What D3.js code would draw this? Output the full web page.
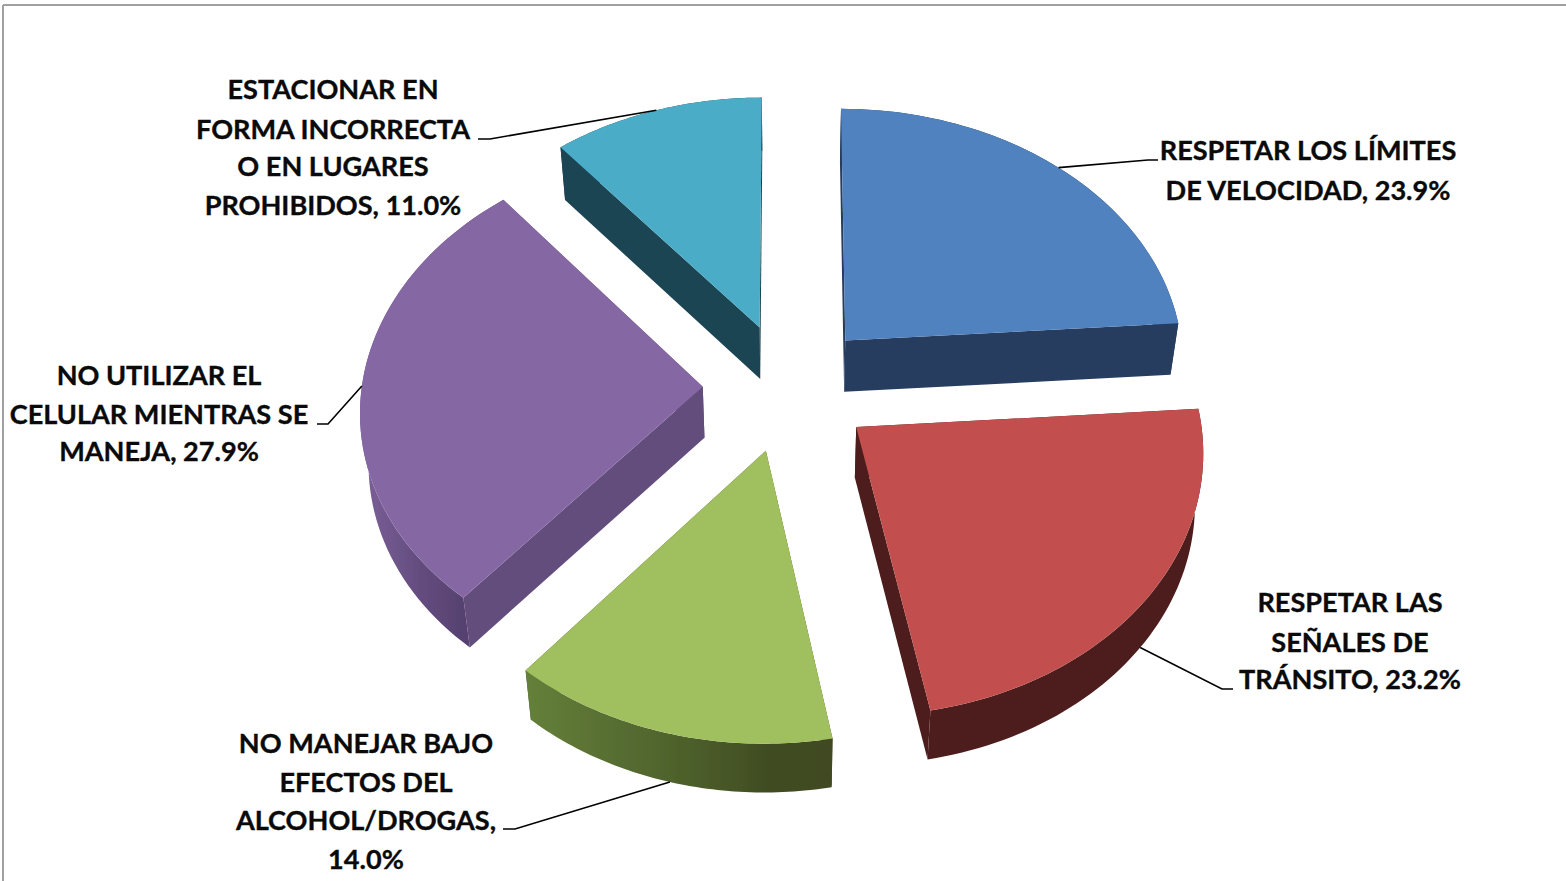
<!DOCTYPE html>
<html>
<head>
<meta charset="utf-8">
<script src="https://cdn.jsdelivr.net/npm/d3@7/dist/d3.min.js"></script>
<style>
html,body{margin:0;padding:0;background:#fff;overflow:hidden}
text{font-family:Lato,"Open Sans",sans-serif;font-weight:700;fill:#0a0a0a;stroke:#0a0a0a;stroke-width:0.35px}
</style>
</head>
<body>
<svg id="c" width="1566" height="881"></svg>
<script>
// --- data ---
const categories = ["RESPETAR LOS LÍMITES DE VELOCIDAD","RESPETAR LAS SEÑALES DE TRÁNSITO","NO MANEJAR BAJO EFECTOS DEL ALCOHOL/DROGAS","NO UTILIZAR EL CELULAR MIENTRAS SE MANEJA","ESTACIONAR EN FORMA INCORRECTA O EN LUGARES PROHIBIDOS"];
const values = [23.9,23.2,14.0,27.9,11.0];
const labelLines = [
  ["RESPETAR LOS LÍMITES","DE VELOCIDAD, 23.9%"],
  ["RESPETAR LAS","SEÑALES DE","TRÁNSITO, 23.2%"],
  ["NO MANEJAR BAJO","EFECTOS DEL","ALCOHOL/DROGAS,","14.0%"],
  ["NO UTILIZAR EL","CELULAR MIENTRAS SE","MANEJA, 27.9%"],
  ["ESTACIONAR EN","FORMA INCORRECTA","O EN LUGARES","PROHIBIDOS, 11.0%"]
];
// --- styling / layout ---
const topColors  = ["#5082bf","#c2504d","#a0c05f","#8567a3","#4bacc8"];
const wallColors = ["#253d5f","#4e1f1e","url(#gGreen)","url(#gPurple)","#1d4452"];
const cutColors  = ["#253d5f","#4e1f1e","#4a5a28","#634d7d","#1d4452"];
const labelCx    = [1308,1350,366,159,333];
const labelMidY  = [[150,190],[602,642,679],[743,782,820,859],[375,414,451],[89,129,166,205]];
const elbows     = [[[1148,160],[1158,160]],[[1222,689],[1233,689]],[[515,829],[503,829]],[[328,424],[317,424]],[[490,139],[478,139]]];
const leaderOnWall = [false,true,true,false,false];

const cx=788, cy=387, R=341, B=258, K=0.082, EX=0.25, EY=0.25, DEPTH=51, DEPTH_TAPER=0.035, SHRINK=0.98;

const sx=d3.scaleLinear().domain([0,1]).range([cx,cx+R]);
const sy=d3.scaleLinear().domain([0,1]).range([cy,cy+B]);

// perspective projection of a point on the unit disc; level 0 = top face, 1 = bottom face
function proj(u,v,level){
  const s=1/(1-K*v), f=level?SHRINK:1;
  return [ cx+(sx(u*s)-cx)*f, sy(v*s)+(level?DEPTH*(1-DEPTH_TAPER*v):0) ];
}
const svg=d3.select("#c");
const defs=svg.append("defs");
defs.append("filter").attr("id","soft").append("feGaussianBlur").attr("stdDeviation",0.6);
function grad(id,x1,x2,stops){
  const g=defs.append("linearGradient").attr("id",id).attr("gradientUnits","userSpaceOnUse")
    .attr("x1",x1).attr("x2",x2).attr("y1",0).attr("y2",0);
  stops.forEach(s=>g.append("stop").attr("offset",s[0]).attr("stop-color",s[1]));
}
grad("gGreen",525,831,[[0,"#64803a"],[0.55,"#4c5e2a"],[0.8,"#404c22"],[1,"#3f4a22"]]);
grad("gPurple",365,470,[[0,"#7a5f96"],[0.5,"#654d80"],[1,"#54406e"]]);

// frame
svg.append("line").attr("x1",3).attr("x2",1566).attr("y1",5).attr("y2",5).attr("stroke","#a0a0a0").attr("stroke-width",2);
svg.append("line").attr("x1",3).attr("x2",3).attr("y1",5).attr("y2",881).attr("stroke","#a0a0a0").attr("stroke-width",2);

const pie=d3.pie().sort(null).value(d=>d);
const arcs=pie(values);
const line=d3.line();
const pieG=svg.append("g").attr("filter","url(#soft)");

const model=arcs.map(a=>{
  const mid=(a.startAngle+a.endAngle)/2;
  const ou=EX*Math.sin(mid), ov=-EY*Math.cos(mid);
  const angles=d3.range(0,61).map(i=>a.startAngle+(a.endAngle-a.startAngle)*i/60);
  const rim=l=>angles.map(t=>proj(ou+Math.sin(t),ov-Math.cos(t),l));
  return {mid,ou,ov,rim,apex:l=>proj(ou,ov,l)};
});

// draw back slices first, then front ones
const order=[4,0,3,1,2];
order.forEach(i=>{
  const m=model[i], g=pieG.append("g");
  const t=m.rim(0), b=m.rim(1);
  // the two cut walls
  g.append("path").attr("d",line([m.apex(0),t[0],b[0],m.apex(1)])+"Z").attr("fill",cutColors[i]);
  g.append("path").attr("d",line([m.apex(0),t[60],b[60],m.apex(1)])+"Z").attr("fill",cutColors[i]);
  // outer wall
  g.append("path").attr("d",line(t.concat(b.slice().reverse()))+"Z").attr("fill",wallColors[i]);
  // top face
  g.append("path").attr("d",line([m.apex(0)].concat(t))+"Z").attr("fill",topColors[i]);
});

// leader lines
model.forEach((m,i)=>{
  const lvl=leaderOnWall[i]?1:0;
  const start=proj(m.ou+Math.sin(m.mid),m.ov-Math.cos(m.mid),lvl);
  svg.append("path").attr("d",line([start].concat(elbows[i])))
    .attr("fill","none").attr("stroke","#000").attr("stroke-width",1.6);
});

// labels
labelLines.forEach((lines,i)=>{
  lines.forEach((s,j)=>{
    svg.append("text").attr("x",labelCx[i]).attr("y",labelMidY[i][j]+9.5)
      .attr("text-anchor","middle").attr("font-size",27.1).text(s);
  });
});
</script>
</body>
</html>
